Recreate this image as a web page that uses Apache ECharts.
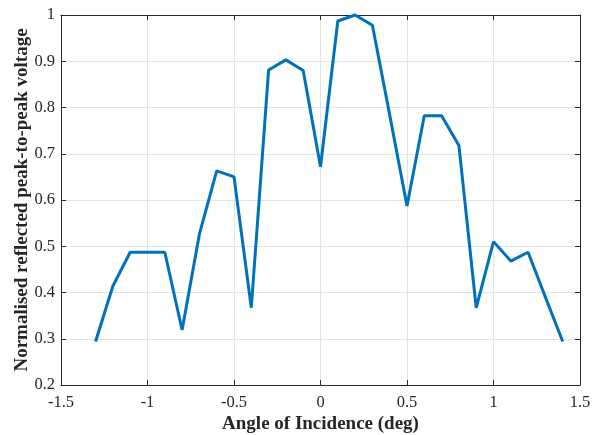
<!DOCTYPE html>
<html>
<head>
<meta charset="utf-8">
<script src="https://cdn.jsdelivr.net/npm/echarts@6/dist/echarts.min.js"></script>
<style>
  html, body { margin: 0; padding: 0; background: #fff; }
  #chart { width: 593px; height: 435px; }
</style>
</head>
<body>
<div id="chart"></div>
<script>
// angle of incidence (deg) and normalised voltage
var angles = [-1.3, -1.2, -1.1, -1.0, -0.9, -0.8, -0.7, -0.6, -0.5, -0.4,
              -0.3, -0.2, -0.1, 0, 0.1, 0.2, 0.3, 0.4, 0.5, 0.6,
              0.7, 0.8, 0.9, 1.0, 1.1, 1.2, 1.3, 1.4];
var voltage = [0.294, 0.414, 0.487, 0.487, 0.487, 0.319, 0.526, 0.663, 0.650, 0.367,
               0.881, 0.903, 0.880, 0.672, 0.987, 1.0, 0.978, 0.784, 0.587, 0.782,
               0.782, 0.718, 0.367, 0.510, 0.468, 0.487, 0.390, 0.294];

var xTitle = 'Angle of Incidence (deg)';
var yTitle = 'Normalised reflected peak-to-peak voltage';

var seriesData = [];
for (var i = 0; i < angles.length; i++) {
  seriesData.push([angles[i], voltage[i]]);
}

var myChart = echarts.init(document.getElementById('chart'));

var axisLine = { show: true, onZero: false, lineStyle: { color: '#262626', width: 1 } };
var tickIn = { show: true, inside: true, length: 5, lineStyle: { color: '#262626' } };
var gridLine = { show: true, lineStyle: { color: '#e3e3e3', width: 1, type: 'solid' } };
var labelFont = { color: '#262626', fontFamily: 'Liberation Serif', fontSize: 16.5 };
var titleFont = { color: '#262626', fontFamily: 'Liberation Serif', fontSize: 19, fontWeight: 'bold' };

var option = {
  animation: false,
  backgroundColor: '#fff',
  grid: {
    left: 61,
    right: 13,
    top: 15,
    bottom: 50,
    containLabel: false,
    outerBoundsMode: 'none'
  },
  xAxis: [{
    type: 'value',
    min: -1.5,
    max: 1.5,
    interval: 0.5,
    position: 'bottom',
    name: xTitle,
    nameLocation: 'middle',
    nameGap: 30,
    nameMoveOverlap: false,
    nameTextStyle: titleFont,
    axisLine: axisLine,
    axisTick: tickIn,
    axisLabel: Object.assign({ margin: 9 }, labelFont),
    splitLine: gridLine
  }, {
    type: 'value',
    min: -1.5,
    max: 1.5,
    interval: 0.5,
    position: 'top',
    axisLine: axisLine,
    axisTick: tickIn,
    axisLabel: { show: false },
    splitLine: { show: false }
  }],
  yAxis: [{
    type: 'value',
    min: 0.2,
    max: 1,
    interval: 0.1,
    position: 'left',
    name: yTitle,
    nameLocation: 'middle',
    nameGap: 29,
    nameMoveOverlap: false,
    nameTextStyle: titleFont,
    axisLine: axisLine,
    axisTick: tickIn,
    axisLabel: Object.assign({ margin: 6, formatter: function (v) { return +v.toFixed(1) + ''; } }, labelFont),
    splitLine: gridLine
  }, {
    type: 'value',
    min: 0.2,
    max: 1,
    interval: 0.1,
    position: 'right',
    axisLine: axisLine,
    axisTick: tickIn,
    axisLabel: { show: false },
    splitLine: { show: false }
  }],
  series: [{
    type: 'line',
    xAxisIndex: 0,
    yAxisIndex: 0,
    data: seriesData,
    symbol: 'none',
    lineStyle: { color: '#0072BD', width: 3 },
    clip: false
  }]
};
myChart.setOption(option);
</script>
</body>
</html>
